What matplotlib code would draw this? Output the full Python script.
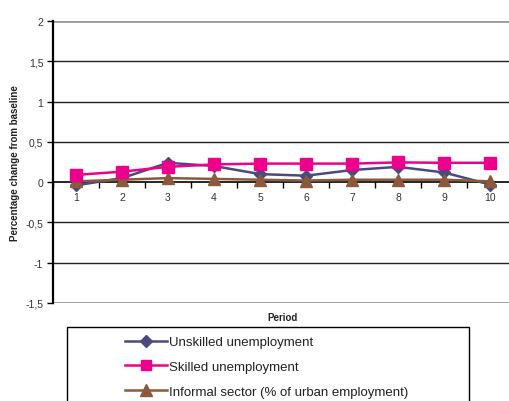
import matplotlib
matplotlib.use("Agg")
import matplotlib.pyplot as plt
from matplotlib.patches import Rectangle
from matplotlib.lines import Line2D

plt.rcParams['font.family'] = ['Liberation Sans', 'DejaVu Sans']

periods = [1, 2, 3, 4, 5, 6, 7, 8, 9, 10]
unskilled = [-0.04, 0.05, 0.24, 0.20, 0.10, 0.08, 0.15, 0.19, 0.12, -0.03]
skilled = [0.09, 0.13, 0.19, 0.22, 0.23, 0.23, 0.23, 0.245, 0.24, 0.24]
informal = [0.01, 0.03, 0.05, 0.04, 0.03, 0.02, 0.03, 0.03, 0.03, 0.01]
y_ticks = [-1.5, -1, -0.5, 0, 0.5, 1, 1.5, 2]
y_labels = ["-1,5", "-1", "-0,5", "0", "0,5", "1", "1,5", "2"]
series_names = ["Unskilled unemployment", "Skilled unemployment",
                "Informal sector (% of urban employment)"]

c_unsk = "#4a4a7c"
c_sk = "#ec008c"
c_inf = "#8b5a3c"

W, H = 509, 402
fig = plt.figure(figsize=(W / 100, H / 100), dpi=100)
ax = fig.add_axes([53 / W, 1 - 304 / H, 460 / W, 282 / H])

ax.set_xlim(0.5, 10.5)
ax.set_ylim(-1.5, 2)

# horizontal gridlines
for v in [-1, -0.5, 0.5, 1, 1.5]:
    ax.axhline(v, color="#222222", lw=1.0, zorder=1)
for v in [-1.5, 2]:
    ax.axhline(v, color="#9a9a9a", lw=2.0, zorder=1)

ax.plot(periods, informal, color=c_inf, lw=1.8, marker="^", ms=9,
        mec=c_inf, mfc=c_inf, zorder=4, clip_on=False)
ax.plot(periods, unskilled, color=c_unsk, lw=1.8, marker="D", ms=6.5,
        mec=c_unsk, mfc=c_unsk, zorder=3, clip_on=False)
ax.plot(periods, skilled, color=c_sk, lw=1.8, marker="s", ms=8.5,
        mec=c_sk, mfc=c_sk, zorder=5, clip_on=False)

for s in ["top", "right"]:
    ax.spines[s].set_visible(False)
ax.spines["left"].set_linewidth(1.6)
ax.spines["bottom"].set_position(("data", 0))
ax.spines["bottom"].set_linewidth(1.2)
ax.spines["bottom"].set_zorder(2)

# tick marks between categories, labels centred on categories
ax.set_xticks([i + 0.5 for i in range(0, 11)])
ax.set_xticklabels([])
ax.tick_params(axis="x", which="major", direction="out", length=4, width=1)
ax.set_xticks(periods, minor=True)
ax.set_xticklabels([str(p) for p in periods], minor=True)
ax.tick_params(axis="x", which="minor", length=0, pad=7, labelsize=7.5,
               labelcolor="#333333")

ax.set_yticks(y_ticks)
ax.set_yticklabels(y_labels)
ax.tick_params(axis="y", direction="out", length=4, width=1, pad=3,
               labelsize=7.5, labelcolor="#333333")

fig.text(15 / W, 1 - 163 / H, "Percentage change from baseline",
         rotation=90, ha="center", va="center", fontsize=7,
         fontweight="bold", color="#222222")
fig.text(283 / W, 1 - 318 / H, "Period", ha="center", va="center",
         fontsize=7, fontweight="bold", color="#222222")

# legend box
fig.patches.append(Rectangle((67 / W, -0.05), (469 - 67) / W,
                             1 - 328 / H + 0.05, transform=fig.transFigure,
                             fill=False, ec="black", lw=1.0))
handles = [
    Line2D([], [], color=c_unsk, lw=1.8, marker="D", ms=6, mfc=c_unsk, mec=c_unsk),
    Line2D([], [], color=c_sk, lw=1.8, marker="s", ms=7.5, mfc=c_sk, mec=c_sk),
    Line2D([], [], color=c_inf, lw=1.8, marker="^", ms=8, mfc=c_inf, mec=c_inf),
]
fig.legend(handles, series_names, loc="upper left",
           bbox_to_anchor=(125 / W, 1 - 337 / H), frameon=False,
           fontsize=9.5, handlelength=3.2, handletextpad=0.1,
           labelspacing=0.95, borderaxespad=0, borderpad=0,
           labelcolor="#222222")

fig.savefig("out.png", dpi=100)
